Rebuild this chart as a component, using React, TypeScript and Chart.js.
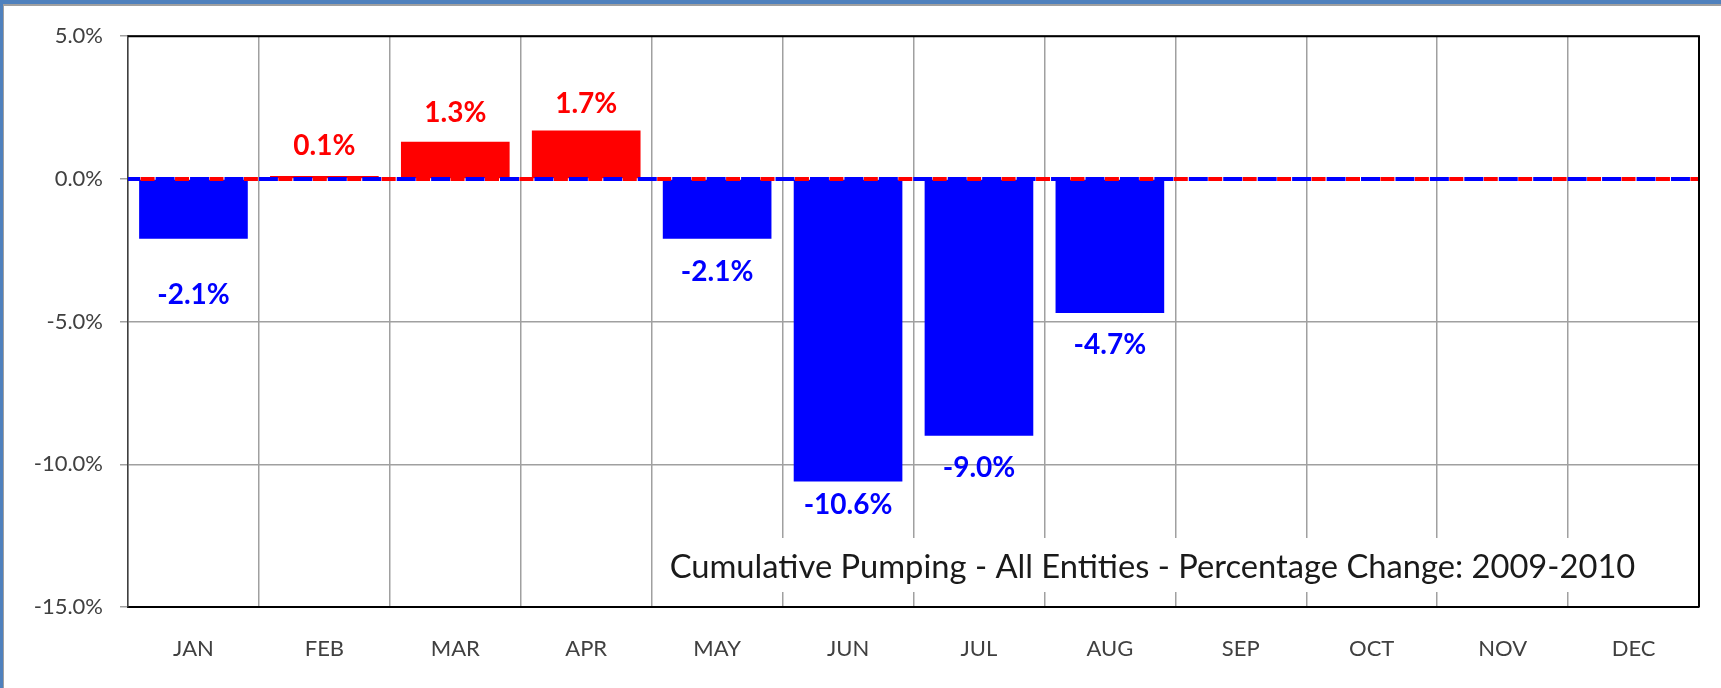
import React, { useEffect, useRef } from "react";
import { Chart, registerables } from "chart.js";

Chart.register(...registerables);

const months = ["JAN", "FEB", "MAR", "APR", "MAY", "JUN", "JUL", "AUG", "SEP", "OCT", "NOV", "DEC"];
const pctChange: (number | null)[] = [-2.1, 0.1, 1.3, 1.7, -2.1, -10.6, -9.0, -4.7, null, null, null, null];
// zero reference line, spanning the full category range (index units)
const zeroLine = [
  { x: -0.5, y: 0 },
  { x: 11.5, y: 0 },
];
const yTicks = [5, 0, -5, -10, -15];
const titleText = "Cumulative Pumping - All Entities - Percentage Change: 2009-2010";

const RED = "#FF0000";
const BLUE = "#0000FF";
const FONT = "Lato, 'Open Sans', sans-serif";
// gap (px) between bar end and its label, per month
const labelGap = [56, 30, 29, 26, 33, 24, 32, 32, 30, 30, 30, 30];

const labelPlugin = {
  id: "barLabels",
  afterDatasetsDraw(chart: any) {
    const ctx = chart.ctx;
    const meta = chart.getDatasetMeta(2);
    ctx.save();
    ctx.font = `bold 28px ${FONT}`;
    ctx.textAlign = "center";
    ctx.textBaseline = "middle";
    meta.data.forEach((el: any, i: number) => {
      const v = pctChange[i];
      if (v === null || v === undefined) return;
      const pos = el.getProps(["x", "y", "base"], true);
      ctx.fillStyle = v >= 0 ? RED : BLUE;
      const y = v >= 0 ? pos.y - labelGap[i] : pos.y + labelGap[i];
      ctx.fillText(v.toFixed(1) + "%", pos.x, y);
    });
    ctx.restore();
  },
};

const titlePlugin = {
  id: "innerTitle",
  beforeDatasetsDraw(chart: any) {
    const { ctx, chartArea } = chart;
    ctx.save();
    ctx.fillStyle = "#FFFFFF";
    ctx.fillRect(chartArea.left + 533, chartArea.bottom - 69, chartArea.right - 2 - (chartArea.left + 533), 54);
    ctx.font = `32.7px ${FONT}`;
    ctx.fillStyle = "#1A1A1A";
    ctx.textAlign = "center";
    ctx.textBaseline = "middle";
    ctx.fillText(titleText, 1148.5, chartArea.bottom - 40);
    ctx.restore();
  },
  afterDraw(chart: any) {
    const { ctx, chartArea } = chart;
    ctx.save();
    ctx.strokeStyle = "#000000";
    ctx.lineWidth = 2;
    ctx.beginPath();
    ctx.moveTo(chartArea.left, chartArea.top);
    ctx.lineTo(chartArea.right, chartArea.top);
    ctx.lineTo(chartArea.right, chartArea.bottom);
    ctx.stroke();
    ctx.restore();
  },
};

export default function App() {
  const ref = useRef<HTMLCanvasElement | null>(null);
  useEffect(() => {
    if (!ref.current) return;
    const chart = new Chart(ref.current, {
      type: "bar",
      data: {
        labels: months,
        datasets: [
          {
            type: "line",
            label: "zero-red",
            data: zeroLine as any,
            parsing: false,
            borderColor: RED,
            borderWidth: 4,
            borderDash: [14, 20.44],
            borderDashOffset: 21.84,
            pointRadius: 0,
            fill: false,
          } as any,
          {
            type: "line",
            label: "zero-blue",
            data: zeroLine as any,
            parsing: false,
            borderColor: BLUE,
            borderWidth: 4,
            borderDash: [19, 15.44],
            borderDashOffset: 6.84,
            pointRadius: 0,
            fill: false,
          } as any,
          {
            type: "bar",
            label: "Change",
            data: pctChange,
            grouped: false,
            backgroundColor: pctChange.map((v) => (v !== null && v >= 0 ? RED : BLUE)),
            borderWidth: 0,
            categoryPercentage: 1,
            barPercentage: 0.83,
          } as any,
        ],
      },
      options: {
        animation: false,
        responsive: false,
        maintainAspectRatio: false,
        devicePixelRatio: 1,
        layout: { padding: { top: 28, right: 22, left: 0, bottom: 0 } },
        plugins: { legend: { display: false }, tooltip: { enabled: false }, title: { display: false } },
        scales: {
          x: {
            type: "category",
            min: 0,
            max: 11,
            offset: true,
            grid: { color: "#A0A0A0", lineWidth: 1.5, drawTicks: false, offset: true },
            border: { color: "#000000", width: 2 },
            ticks: { font: { family: FONT, size: 22 }, color: "#404040", padding: 29 },
            afterFit(scale: any) {
              scale.height = 81;
            },
          },
          y: {
            min: -15,
            max: 5,
            afterBuildTicks(scale: any) {
              scale.ticks = yTicks.map((v) => ({ value: v }));
            },
            grid: {
              color: (c: any) => (c.tick && c.tick.value === 0 ? "rgba(0,0,0,0)" : "#A0A0A0"),
              lineWidth: 1.5,
              tickLength: 8,
              tickColor: "#A0A0A0",
            },
            border: { color: "#404040", width: 1.5 },
            ticks: {
              font: { family: FONT, size: 22 },
              color: "#404040",
              padding: 17,
              callback: (v: any) => Number(v).toFixed(1) + "%",
            },
            afterFit(scale: any) {
              scale.width = 124;
            },
          },
        },
      },
      plugins: [labelPlugin, titlePlugin],
    });
    return () => chart.destroy();
  }, []);

  return (
    <div
      style={{
        position: "fixed",
        top: 0,
        left: 0,
        width: 1721,
        height: 688,
        boxSizing: "border-box",
        borderTop: "4px solid #4F81BD",
        borderLeft: "3px solid #4F81BD",
        background: "#FFFFFF",
      }}
    >
      <div
        style={{
          width: 1718,
          height: 684,
          boxSizing: "border-box",
          borderTop: "2px solid #A0A0A0",
          borderLeft: "1px solid #A0A0A0",
        }}
      >
        <canvas ref={ref} width={1717} height={682} style={{ display: "block", width: 1717, height: 682 }} />
      </div>
    </div>
  );
}
